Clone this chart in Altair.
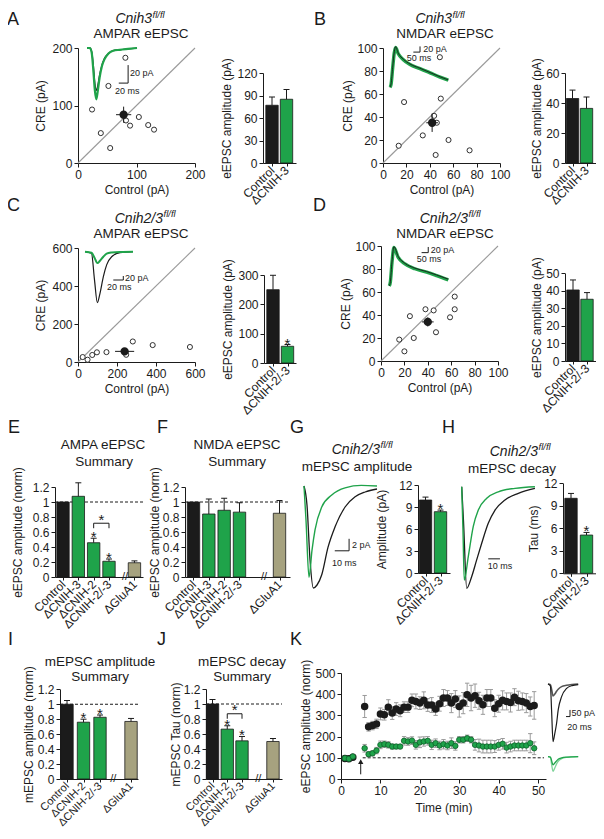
import altair as alt
import pandas as pd

# ============================================================ DATA
# A  Cnih3 fl/fl  AMPAR eEPSC (paired recordings, pA)
A_CONTROL = [81, 52, 24, 39, 55, 82, 89, 104, 120, 130]
A_CRE = [183, 134, 93, 52, 26, 74, 65, 80, 66, 58]
A_MEAN = [78, 84]
A_SEM = [13, 14]
A_BARS = [77, 85]
A_BARS_SEM = [11, 13]
A_TR_MS = [0, 6, 10, 14, 17, 20, 23, 27, 32, 38, 46, 56, 70, 88, 107]
A_TR_CTRL = [0, 0, -4, -22, -40, -47, -42, -30, -19, -11, -6, -3, -2, -1, 0]
A_TR_CRE = [0, 0, -5, -28, -48, -57, -48, -33, -20, -12, -6, -3, -2, -1, 0]
A_SCALEBAR = [20, 20]          # pA, ms

# B  Cnih3 fl/fl  NMDAR eEPSC
B_CONTROL = [48.6, 18, 49.4, 43.7, 46, 34, 13.4, 56, 45, 74]
B_CRE = [92, 53, 56, 41, 35, 24, 15, 20, 7, 11]
B_MEAN = [42, 35]
B_SEM = [5, 8]
B_BARS = [43, 36.4]
B_BARS_SEM = [5.6, 7.6]
B_TR_MS = [0, 8, 20, 32, 42, 62, 100, 150, 225, 300, 375, 437]
B_TR_CTRL = [0, 12, 70, 125, 143, 120, 99, 82, 67, 52, 37, 26]
B_TR_CRE = [0, 10, 68, 122, 140, 118, 97, 80, 66, 51, 36, 25]
B_SCALEBAR = [20, 50]

# C  Cnih2/3 fl/fl  AMPAR eEPSC
C_CONTROL = [24, 49, 73, 97, 146, 244, 247, 281, 383, 574]
C_CRE = [26, 12, 37, 51, 52, 52, 38, 108, 89, 79]
C_MEAN = [239, 56]
C_SEM = [49, 12]
C_BARS = [250, 57]
C_BARS_SEM = [49, 6]
C_TR_MS = [0, 13, 19, 24.7, 30, 36.7, 43.3, 53.3, 70, 96]
C_TR_CTRL = [0, -8, -141, -255, -208, -125, -66, -25, -5, 0]
C_TR_CRE = [0, -5, -30, -57, -45, -25, -10, -4, -1, 0]
C_SCALEBAR = [20, 20]

# D  Cnih2/3 fl/fl  NMDAR eEPSC
D_CONTROL = [15.6, 20, 24.7, 28, 38, 45, 47, 59, 63, 63]
D_CRE = [18.6, 8.4, 39, 20, 45, 44, 25, 38, 56, 45]
D_MEAN = [40, 34]
D_SEM = [5, 4]
D_BARS = [40.5, 35.2]
D_BARS_SEM = [5.7, 3.8]
D_TR_MS = [0, 8, 20, 35, 67, 118, 193, 281, 356, 444]
D_TR_CTRL = [0, 15, 85, 139, 104, 80, 63, 51, 39, 24]
D_TR_CRE = [0, 14, 82, 136, 101, 78, 61, 49, 37, 22]
D_SCALEBAR = [20, 50]

PAIR_CNIH3 = ["Control", "ΔCNIH-3"]
PAIR_CNIH23 = ["Control", "ΔCNIH-2/-3"]

# E / F summaries (normalised)
E_CATS = ["Control", "ΔCNIH-3", "ΔCNIH-2", "ΔCNIH-2/-3", "ΔGluA1"]
E_VALUES = [1.0, 1.076, 0.457, 0.21, 0.19]
E_SEM = [0.0, 0.18, 0.06, 0.03, 0.025]
F_VALUES = [1.0, 0.84, 0.89, 0.865, 0.85]
F_SEM = [0.0, 0.2, 0.16, 0.125, 0.17]

# G / H  mEPSC
G_BARS = [9.95, 8.36]
G_SEM = [0.4, 0.22]
G_TR_MS_CTRL = [0, 2.1, 4.2, 6.5, 9.1, 12.4, 16.8, 21.7, 28.7, 35.7, 42.7, 51]
G_TR_CTRL = [0, -3.2, -12.3, -17, -16.5, -14.8, -10.2, -6.8, -3.5, -1.8, -1.0, -0.5]
G_TR_MS_CNIH = [0, 1.4, 3.5, 5.6, 7.7, 12.4, 19.4, 28.7, 40, 51]
G_TR_CNIH = [0, -5.7, -15.2, -10.7, -7.3, -3.5, -1.5, -0.3, 0.1, 0]
G_SCALEBAR = [2, 10]
H_BARS = [10.0, 5.1]
H_SEM = [0.65, 0.35]
H_TR_MS_CTRL = [0, 1.5, 4.3, 8.5, 12.8, 17.1, 22.7, 28.5, 37, 48.4, 62.6]
H_TR_CTRL = [0, -0.33, -1.0, -0.886, -0.72, -0.557, -0.36, -0.23, -0.13, -0.065, -0.016]
H_TR_MS_CNIH = [0, 1.1, 2.2, 5.6, 9.9, 14.2, 21.4, 31.3, 45.6, 62.6]
H_TR_CNIH = [0, -0.43, -0.92, -0.69, -0.39, -0.23, -0.114, -0.05, -0.016, 0]
H_SCALEBAR = [10]

# I / J summaries
I_CATS = ["Control", "ΔCNIH-2", "ΔCNIH-2/-3", "ΔGluA1"]
I_VALUES = [1.0, 0.76, 0.826, 0.77]
I_SEM = [0.05, 0.04, 0.03, 0.04]
J_VALUES = [1.0, 0.665, 0.509, 0.5]
J_SEM = [0.06, 0.045, 0.058, 0.04]

# K  LTP time course (norm %)
K_TIME = [1, 2, 3, 6, 7, 8, 9, 10, 11, 12, 13, 14, 15, 16, 17, 18, 19, 20, 21, 22, 23, 24, 25,
          26, 27, 28, 29, 30, 31, 32, 33, 34, 35, 36, 37, 38, 39, 40, 41, 42, 43, 44, 45, 46, 47, 48, 49]
K_CTRL = [97, 95, 103, 342, 246, 252, 260, 307, 303, 339, 311, 330, 322, 339, 339, 371, 366, 358, 371,
          349, 349, 330, 355, 382, 382, 358, 377, 342, 358, 397, 382, 393, 369, 350, 382, 382, 334, 355,
          371, 366, 361, 386, 369, 366, 358, 342, 347]
K_CTRL_SEM = [8, 8, 8, 52, 20, 20, 22, 28, 25, 35, 30, 30, 28, 25, 25, 30, 35, 30, 40, 30, 35, 30, 35,
              40, 35, 45, 40, 50, 50, 55, 60, 55, 40, 45, 40, 40, 40, 40, 45, 40, 45, 40, 45, 40, 45, 45, 65]
K_CNIH = [98, 95, 106, 145, 117, 121, 134, 161, 164, 161, 153, 153, 153, 180, 177, 181, 161, 173, 177,
          180, 161, 169, 158, 164, 158, 169, 156, 185, 185, 192, 185, 161, 158, 153, 153, 153, 153, 161,
          166, 148, 153, 158, 158, 158, 158, 169, 145]
K_CNIH_SEM = [8, 8, 8, 18, 12, 12, 15, 18, 15, 15, 12, 10, 10, 20, 18, 18, 20, 25, 22, 20, 22, 20, 20,
              22, 20, 25, 20, 15, 15, 15, 15, 25, 30, 30, 30, 30, 28, 25, 25, 25, 25, 25, 25, 25, 25, 45, 30]
K_TR_MS = [0, 12, 18, 25, 33, 43, 51, 68, 93, 120, 151]
K_TR_CTRL_BEFORE = [0, -5, -40, -90, -78, -55, -40, -20, -10, -4, 0]
K_TR_CTRL_AFTER = [0, -15, -200, -433, -380, -295, -195, -95, -33, -12, -5]
K_TR_CNIH_BEFORE = [0, -3, -30, -62, -50, -32, -20, -9, -3, -1, 0]
K_TR_CNIH_AFTER = [0, -5, -60, -112, -90, -55, -35, -15, -5, -2, 0]
K_SCALEBAR = [50, 20]

# ============================================================ STYLE / LAYOUT
MARGIN = 8
CW, CH = 588, 823
FONT = "Liberation Sans"
BLACK = "#1b1b1b"
GREEN = "#1fa34a"
DKGREEN = "#0e5f2a"
LTGREEN = "#7fd39a"
TAN = "#a6a27f"
GRAY = "#9a9a9a"

layers = []


def P(v):
    return v - MARGIN


def sc(domain, p0, p1):
    return alt.Scale(domain=list(domain), range=[P(p0), P(p1)], nice=False, zero=False)


def xaxis(ypix, values, **kw):
    d = dict(orient="bottom", offset=P(ypix) - CH, values=values, title=None)
    d.update(kw)
    return alt.Axis(**d)


def yaxis(xpix, values, **kw):
    d = dict(orient="left", offset=-P(xpix), values=values, title=None)
    d.update(kw)
    return alt.Axis(**d)


def line(t, v, xs_, ys_, color, width):
    df = pd.DataFrame({"t": t, "v": v})
    return alt.Chart(df).mark_line(color=color, strokeWidth=width, interpolate="monotone").encode(
        x=alt.X("t:Q", scale=xs_, axis=None), y=alt.Y("v:Q", scale=ys_, axis=None))


def segs(rows, xs_, ys_, color=BLACK, width=1.0, dash=None):
    df = pd.DataFrame(rows, columns=["x", "y", "x2", "y2"])
    kw = dict(color=color, strokeWidth=width)
    if dash:
        kw["strokeDash"] = dash
    return alt.Chart(df).mark_rule(**kw).encode(
        x=alt.X("x:Q", scale=xs_, axis=None), y=alt.Y("y:Q", scale=ys_, axis=None),
        x2="x2:Q", y2="y2:Q")


def texts(rows, xs_, ys_, align="left", size=9, baseline="middle", dy=0):
    df = pd.DataFrame(rows, columns=["x", "y", "txt"])
    return alt.Chart(df).mark_text(align=align, baseline=baseline, fontSize=size, color=BLACK, dy=dy).encode(
        x=alt.X("x:Q", scale=xs_, axis=None), y=alt.Y("y:Q", scale=ys_, axis=None), text="txt:N")


def scalebar(xs_, ys_, tx, vy, dv, dt, vlabel, tlabel, vpos, tpos):
    rows = []
    if dv:
        rows.append([tx, vy, tx, vy + dv])
    if dt:
        rows.append([tx - dt, vy, tx, vy])
    layers.append(segs(rows, xs_, ys_))
    trows = []
    if vlabel:
        trows.append([vpos[0], vpos[1], vlabel])
    if tlabel:
        trows.append([tpos[0], tpos[1], tlabel])
    layers.append(texts(trows, xs_, ys_))


def scatter_panel(ctrl, cre, mean, sem, dom, ticks, x0, x1, yb, yt, ytpad, traces):
    xs_ = sc([0, dom], x0, x1)
    ys_ = sc([0, dom], yb, yt)
    diag = pd.DataFrame({"c": [0, dom], "r": [0, dom]})
    layers.append(alt.Chart(diag).mark_line(color=GRAY, strokeWidth=1.1).encode(
        x=alt.X("c:Q", scale=xs_, axis=xaxis(yb, ticks, title="Control (pA)", titlePadding=4)),
        y=alt.Y("r:Q", scale=ys_, axis=yaxis(x0, ticks, title="CRE (pA)", titlePadding=ytpad))))
    traces()
    pts = pd.DataFrame({"c": ctrl, "r": cre})
    layers.append(alt.Chart(pts).mark_point(filled=True, fill="white", stroke=BLACK, strokeWidth=0.9,
                                            size=26, opacity=1).encode(
        x=alt.X("c:Q", scale=xs_, axis=None), y=alt.Y("r:Q", scale=ys_, axis=None)))
    mx, my = mean
    ex, ey = sem
    layers.append(segs([[mx - ex, my, mx + ex, my], [mx, my - ey, mx, my + ey]], xs_, ys_))
    m = pd.DataFrame({"c": [mx], "r": [my]})
    layers.append(alt.Chart(m).mark_point(filled=True, fill=BLACK, stroke=BLACK, size=40, opacity=1).encode(
        x=alt.X("c:Q", scale=xs_, axis=None), y=alt.Y("r:Q", scale=ys_, axis=None)))


def cat_color(c):
    if c == "Control":
        return BLACK
    if "GluA1" in c:
        return TAN
    return GREEN


def label_expr(slots, cats):
    parts = [f"abs(datum.value - {s}) < 0.01 ? '{c}'" for s, c in zip(slots, cats)]
    return " : ".join(parts) + " : ''"


def bar_panel(cats, vals, sems, slots, axis_px, c0_px, step_px, end_px, ybot, ytop, ymax, yticks,
              ytitle, tpad=3, tsize=12, yfmt=None, ref=False, brk=None, stars=(), bracket=None, lsize=12):
    lo = (axis_px - c0_px) / step_px
    hi = (end_px - c0_px) / step_px
    xs_ = sc([lo, hi], axis_px, end_px)
    ys_ = sc([0, ymax], ybot, ytop)
    ppu = (ybot - ytop) / ymax
    hw = 6.2 / step_px
    cw = 3.0 / step_px
    df = pd.DataFrame({"cat": cats, "val": vals, "sem": sems, "slot": slots})
    df["x0"] = df["slot"] - hw
    df["x1"] = df["slot"] + hw
    df["top"] = df["val"] + df["sem"]
    df["zero"] = 0.0
    df["col"] = [cat_color(c) for c in cats]
    tops = dict(zip(cats, df["top"]))
    sl = dict(zip(cats, slots))
    if ref:
        layers.append(segs([[lo, 1.0, hi, 1.0]], xs_, ys_, dash=[3, 2]))
    yax = dict(title=ytitle, titlePadding=tpad, titleFontSize=tsize)
    if yfmt:
        yax["format"] = yfmt
    layers.append(alt.Chart(df).mark_bar(stroke=BLACK, strokeWidth=0.8).encode(
        x=alt.X("x0:Q", scale=xs_, axis=xaxis(ybot, list(slots), labelExpr=label_expr(slots, cats),
                                              labelAngle=-45, labelAlign="right", labelBaseline="middle",
                                              labelPadding=2, tickSize=3, labelFontSize=lsize)),
        x2="x1:Q",
        y=alt.Y("val:Q", scale=ys_, axis=yaxis(axis_px, yticks, **yax)),
        y2="zero:Q",
        color=alt.Color("col:N", scale=None)))
    e = [[s, v, s, v + er] for s, v, er in zip(slots, vals, sems) if er > 0]
    c = [[s - cw, v + er, s + cw, v + er] for s, v, er in zip(slots, vals, sems) if er > 0]
    if e:
        layers.append(segs(e + c, xs_, ys_))
    if brk is not None:
        layers.append(texts([[brk, 0, "//"]], xs_, ys_, align="center", size=11))
    srows = [[sl[s], tops[s] + 4.5 / ppu, "*"] for s in stars]
    if bracket:
        a, b, gap = bracket
        lvl = max(tops[a], tops[b]) + gap / ppu
        leg = 5 / ppu
        layers.append(segs([[sl[a], lvl, sl[b], lvl], [sl[a], lvl, sl[a], lvl - leg],
                            [sl[b], lvl, sl[b], lvl - leg]], xs_, ys_))
        srows.append([(sl[a] + sl[b]) / 2, lvl + 7 / ppu, "*"])
    if srows:
        layers.append(texts(srows, xs_, ys_, align="center", size=15, dy=3.5))


# ============================================================ PANEL A
def a_traces():
    xs_ = sc([0, 107], 87, 137)
    ys_ = sc([-60, 0], 102, 48)
    layers.append(line(A_TR_MS, A_TR_CTRL, xs_, ys_, BLACK, 1.3))
    layers.append(line(A_TR_MS, A_TR_CRE, xs_, ys_, GREEN, 2.2))
    scalebar(xs_, ys_, 88, -39, A_SCALEBAR[0], A_SCALEBAR[1], f"{A_SCALEBAR[0]} pA", f"{A_SCALEBAR[1]} ms",
             (92, -28), (60, -48))


scatter_panel(A_CONTROL, A_CRE, A_MEAN, A_SEM, 200, [0, 100, 200], 78, 195, 163, 48, 4, a_traces)
bar_panel(PAIR_CNIH3, A_BARS, A_BARS_SEM, [0, 1], 263, 272, 14.5, 296, 163, 73, 120,
          [0, 30, 60, 90, 120], "eEPSC amplitude (pA)")


# ============================================================ PANEL B
def b_traces():
    xs_ = sc([0, 437], 390, 448.3)
    ys_ = sc([0, 143], 87.3, 46.7)
    layers.append(line(B_TR_MS, B_TR_CRE, xs_, ys_, GREEN, 3.4))
    layers.append(line(B_TR_MS, B_TR_CTRL, xs_, ys_, BLACK, 0.9))
    scalebar(xs_, ys_, 225, 124, B_SCALEBAR[0], B_SCALEBAR[1], f"{B_SCALEBAR[0]} pA", f"{B_SCALEBAR[1]} ms",
             (250, 134), (125, 102))


scatter_panel(B_CONTROL, B_CRE, B_MEAN, B_SEM, 100, [0, 20, 40, 60, 80, 100], 383, 500, 163, 48, 2, b_traces)
bar_panel(PAIR_CNIH3, B_BARS, B_BARS_SEM, [0, 1], 565, 572.5, 14, 596, 163, 73, 60,
          [0, 20, 40, 60], "eEPSC amplitude (pA)", tpad=2)


# ============================================================ PANEL C
def c_traces():
    xs_ = sc([0, 96], 85, 133)
    ys_ = sc([-260, 0], 303.7, 251.7)
    layers.append(line(C_TR_MS, C_TR_CTRL, xs_, ys_, BLACK, 1.2))
    layers.append(line(C_TR_MS, C_TR_CRE, xs_, ys_, GREEN, 2.0))
    scalebar(xs_, ys_, 76.6, -141.5, C_SCALEBAR[0], C_SCALEBAR[1], f"{C_SCALEBAR[0]} pA",
             f"{C_SCALEBAR[1]} ms", (80, -132), (44, -176))


scatter_panel(C_CONTROL, C_CRE, C_MEAN, C_SEM, 600, [0, 200, 400, 600], 78, 195, 362, 248, 4, c_traces)
bar_panel(PAIR_CNIH23, C_BARS, C_BARS_SEM, [0, 1], 264, 273, 14.5, 296, 363, 275, 300,
          [0, 100, 200, 300], "eEPSC amplitude (pA)", stars=["ΔCNIH-2/-3"])


# ============================================================ PANEL D
def d_traces():
    xs_ = sc([0, 444], 389.3, 448.3)
    ys_ = sc([0, 139], 286, 246.7)
    layers.append(line(D_TR_MS, D_TR_CRE, xs_, ys_, GREEN, 3.4))
    layers.append(line(D_TR_MS, D_TR_CTRL, xs_, ys_, BLACK, 0.9))
    scalebar(xs_, ys_, 293, 118, D_SCALEBAR[0], D_SCALEBAR[1], f"{D_SCALEBAR[0]} pA", f"{D_SCALEBAR[1]} ms",
             (312, 128), (206, 96))


scatter_panel(D_CONTROL, D_CRE, D_MEAN, D_SEM, 100, [0, 20, 40, 60, 80, 100], 381, 498, 361, 246, 2, d_traces)
bar_panel(PAIR_CNIH23, D_BARS, D_BARS_SEM, [0, 1], 565, 573, 14, 596, 361, 273.3, 50,
          [0, 10, 20, 30, 40, 50], "eEPSC amplitude (pA)", tpad=2)

# ============================================================ PANELS E, F
NORM_TICKS = [0, 0.2, 0.4, 0.6, 0.8, 1.0, 1.2]
bar_panel(E_CATS, E_VALUES, E_SEM, [0, 1, 2, 3, 4.66], 55, 63, 15.33, 143, 577, 487, 1.2, NORM_TICKS,
          "eEPSC ampitude (norm)", tpad=8, yfmt="~g", ref=True, brk=4.05,
          stars=["ΔCNIH-2", "ΔCNIH-2/-3"], bracket=("ΔCNIH-2", "ΔCNIH-2/-3", 15))
bar_panel(E_CATS, F_VALUES, F_SEM, [0, 1, 2, 3, 5.61], 185, 193.5, 15.33, 290, 577, 487, 1.2, NORM_TICKS,
          "eEPSC ampitude (norm)", tpad=1, yfmt="~g", ref=True, brk=4.6)


# ============================================================ PANELS G, H
def g_traces():
    xs_ = sc([0, 51], 304, 377)
    ys_ = sc([-17.5, 0.5], 591, 483)
    layers.append(line(G_TR_MS_CTRL, G_TR_CTRL, xs_, ys_, BLACK, 1.3))
    layers.append(line(G_TR_MS_CNIH, G_TR_CNIH, xs_, ys_, GREEN, 1.4))
    scalebar(xs_, ys_, 31.5, -10.8, G_SCALEBAR[0], G_SCALEBAR[1], f"{G_SCALEBAR[0]} pA",
             f"{G_SCALEBAR[1]} ms", (33.5, -9.8), (19.5, -12.9))


def h_traces():
    xs_ = sc([0, 63], 461.7, 535.4)
    ys_ = sc([-1.0, 0.0], 588.3, 486.7)
    layers.append(line(H_TR_MS_CTRL, H_TR_CTRL, xs_, ys_, BLACK, 1.3))
    layers.append(line(H_TR_MS_CNIH, H_TR_CNIH, xs_, ys_, GREEN, 1.4))
    scalebar(xs_, ys_, 32.7, -0.71, 0, H_SCALEBAR[0], None, f"{H_SCALEBAR[0]} ms", None, (22.2, -0.78))


g_traces()
bar_panel(PAIR_CNIH23, G_BARS, G_SEM, [0, 1], 418, 425.5, 15, 450, 573, 485, 12, [0, 3, 6, 9, 12],
          "Amplitude (pA)", tpad=10, stars=["ΔCNIH-2/-3"])
h_traces()
bar_panel(PAIR_CNIH23, H_BARS, H_SEM, [0, 1], 563, 571, 15.5, 596, 573.3, 483.3, 12, [0, 3, 6, 9, 12],
          "Tau (ms)", tpad=3, stars=["ΔCNIH-2/-3"])

# ============================================================ PANELS I, J
bar_panel(I_CATS, I_VALUES, I_SEM, [0, 1, 2, 3.88], 60, 67, 16.5, 138, 779, 689.3, 1.2, NORM_TICKS,
          "mEPSC amplitude (norm)", tpad=2, yfmt="~g", ref=True, brk=2.8,
          stars=["ΔCNIH-2", "ΔCNIH-2/-3"], lsize=11)
bar_panel(I_CATS, J_VALUES, J_SEM, [0, 1, 2, 4.1], 206, 212.5, 14.75, 282, 779, 689, 1.2, NORM_TICKS,
          "mEPSC Tau (norm)", tpad=1, yfmt="~g", ref=True, brk=3.1,
          stars=["ΔCNIH-2", "ΔCNIH-2/-3"], bracket=("ΔCNIH-2", "ΔCNIH-2/-3", 12), lsize=11)

# ============================================================ PANEL K
kx = sc([0, 52], 341, 546)
ky = sc([0, 500], 779, 673)
layers.append(segs([[5.5, 100, 51.5, 100]], kx, ky, dash=[3, 2]))
kd = pd.DataFrame({"t": K_TIME, "c": K_CTRL, "cs": K_CTRL_SEM, "g": K_CNIH, "gs": K_CNIH_SEM})
kd["c_lo"] = kd["c"] - kd["cs"]
kd["c_hi"] = kd["c"] + kd["cs"]
kd["g_lo"] = kd["g"] - kd["gs"]
kd["g_hi"] = kd["g"] + kd["gs"]
kd["t0"] = kd["t"] - 0.55
kd["t1"] = kd["t"] + 0.55
layers.append(alt.Chart(kd).mark_rule(color=GRAY, strokeWidth=1).encode(
    x=alt.X("t:Q", scale=kx, axis=xaxis(779, [0, 10, 20, 30, 40, 50], title="Time (min)", titlePadding=6)),
    y=alt.Y("c_lo:Q", scale=ky, axis=yaxis(341, [0, 100, 200, 300, 400, 500], title="eEPSC amplitude (norm)",
                                         titlePadding=2)),
    y2="c_hi:Q"))
for lo_hi in ("c_lo", "c_hi"):
    layers.append(alt.Chart(kd).mark_rule(color=GRAY, strokeWidth=1).encode(
        x=alt.X("t0:Q", scale=kx, axis=None), x2="t1:Q", y=alt.Y(f"{lo_hi}:Q", scale=ky, axis=None)))
layers.append(alt.Chart(kd).mark_point(filled=True, fill=BLACK, stroke=BLACK, size=30, opacity=1).encode(
    x=alt.X("t:Q", scale=kx, axis=None), y=alt.Y("c:Q", scale=ky, axis=None)))
layers.append(alt.Chart(kd).mark_rule(color=GRAY, strokeWidth=1).encode(
    x=alt.X("t:Q", scale=kx, axis=None), y=alt.Y("g_lo:Q", scale=ky, axis=None), y2="g_hi:Q"))
for lo_hi in ("g_lo", "g_hi"):
    layers.append(alt.Chart(kd).mark_rule(color=GRAY, strokeWidth=1).encode(
        x=alt.X("t0:Q", scale=kx, axis=None), x2="t1:Q", y=alt.Y(f"{lo_hi}:Q", scale=ky, axis=None)))
layers.append(alt.Chart(kd).mark_point(filled=True, fill=GREEN, stroke=DKGREEN, strokeWidth=0.8, size=30,
                                       opacity=1).encode(
    x=alt.X("t:Q", scale=kx, axis=None), y=alt.Y("g:Q", scale=ky, axis=None)))
# induction arrow
layers.append(segs([[5, 22, 5, 78]], kx, ky))
layers.append(alt.Chart(pd.DataFrame({"t": [5], "v": [82]})).mark_point(
    shape="triangle-up", filled=True, color=BLACK, size=28, opacity=1).encode(
    x=alt.X("t:Q", scale=kx, axis=None), y=alt.Y("v:Q", scale=ky, axis=None)))
# K example traces
ktx = sc([0, 151], 548, 578.2)
kty = sc([-440, 0], 742.5, 684)
layers.append(line(K_TR_MS, K_TR_CTRL_BEFORE, ktx, kty, "#555555", 1.6))
layers.append(line(K_TR_MS, K_TR_CTRL_AFTER, ktx, kty, BLACK, 1.2))
scalebar(ktx, kty, 110, -245, K_SCALEBAR[0], K_SCALEBAR[1], f"{K_SCALEBAR[0]} pA", f"{K_SCALEBAR[1]} ms",
         (117, -220), (96, -322))
kgy = sc([-120, 0], 772.3, 756.7)
layers.append(line(K_TR_MS, K_TR_CNIH_AFTER, ktx, kgy, LTGREEN, 1.3))
layers.append(line(K_TR_MS, K_TR_CNIH_BEFORE, ktx, kgy, GREEN, 1.3))

# ============================================================ TEXT (panel letters and titles)
ANNOT = [
    ("A", 7, 25, 18, "normal", "left"), ("B", 314, 25, 18, "normal", "left"),
    ("C", 7, 211, 18, "normal", "left"), ("D", 313, 211, 18, "normal", "left"),
    ("E", 8, 433, 18, "normal", "left"), ("F", 157, 433, 18, "normal", "left"),
    ("G", 290, 433, 18, "normal", "left"), ("H", 442, 433, 18, "normal", "left"),
    ("I", 8, 645, 18, "normal", "left"), ("J", 157, 645, 18, "normal", "left"),
    ("K", 290, 645, 18, "normal", "left"),
    ("Cnih3", 152, 23, 14, "italic", "right"), ("fl/fl", 152.5, 17.5, 9.5, "italic", "left"),
    ("AMPAR eEPSC", 141, 38, 13.5, "normal", "center"),
    ("Cnih3", 452, 23, 14, "italic", "right"), ("fl/fl", 452.5, 17.5, 9.5, "italic", "left"),
    ("NMDAR eEPSC", 445, 38, 13.5, "normal", "center"),
    ("Cnih2/3", 163, 223, 14, "italic", "right"), ("fl/fl", 163.5, 216.5, 9.5, "italic", "left"),
    ("AMPAR eEPSC", 141, 238, 13.5, "normal", "center"),
    ("Cnih2/3", 468, 223, 14, "italic", "right"), ("fl/fl", 468.5, 216.5, 9.5, "italic", "left"),
    ("NMDAR eEPSC", 445, 238, 13.5, "normal", "center"),
    ("AMPA eEPSC", 103, 449, 13.5, "normal", "center"), ("Summary", 104, 466, 13.5, "normal", "center"),
    ("NMDA eEPSC", 237, 449, 13.5, "normal", "center"), ("Summary", 237, 466, 13.5, "normal", "center"),
    ("Cnih2/3", 380, 454, 14, "italic", "right"), ("fl/fl", 380.5, 447.5, 9.5, "italic", "left"),
    ("mEPSC amplitude", 357, 471, 13.5, "normal", "center"),
    ("Cnih2/3", 538, 456, 14, "italic", "right"), ("fl/fl", 538.5, 449.5, 9.5, "italic", "left"),
    ("mEPSC decay", 512, 473, 13.5, "normal", "center"),
    ("mEPSC amplitude", 100, 666, 13.5, "normal", "center"), ("Summary", 100, 681, 13.5, "normal", "center"),
    ("mEPSC decay", 242, 666, 13.5, "normal", "center"), ("Summary", 242, 681, 13.5, "normal", "center"),
]
groups = {}
for txt, x, y, size, style, align in ANNOT:
    groups.setdefault((size, style, align), []).append((txt, P(x), P(y)))
for (size, style, align), rows in groups.items():
    df = pd.DataFrame(rows, columns=["txt", "x", "y"])
    layers.append(alt.Chart(df).mark_text(fontSize=size, fontStyle=style, align=align, baseline="alphabetic",
                                          color=BLACK).encode(
        x=alt.X("x:Q", scale=None, axis=None), y=alt.Y("y:Q", scale=None, axis=None), text="txt:N"))

# ============================================================ ASSEMBLE
chart = alt.layer(*layers).resolve_scale(x="independent", y="independent").resolve_axis(
    x="independent", y="independent").properties(
    width=CW, height=CH, autosize=alt.AutoSizeParams(type="none"), padding=0
).configure_axis(
    labelFont=FONT, titleFont=FONT, labelFontSize=12, titleFontSize=12, titleFontWeight="normal",
    labelColor=BLACK, titleColor=BLACK, domainColor=BLACK, tickColor=BLACK, tickSize=4, labelPadding=2,
    grid=False, labelFlush=False, labelOverlap=False, domainWidth=1, tickWidth=1
).configure_view(stroke=None).configure_text(font=FONT)

chart.save("out.html", embed_options={"renderer": "svg", "actions": False})
